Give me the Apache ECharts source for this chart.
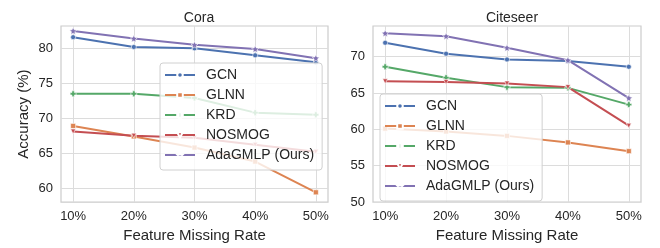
<!DOCTYPE html>
<html>
<head>
<meta charset="utf-8">
<script src="https://cdn.jsdelivr.net/npm/echarts@6/dist/echarts.min.js"></script>
<style>
  html, body { margin: 0; padding: 0; background: #fff; }
  #chart { width: 660px; height: 248px; }
</style>
</head>
<body>
<div id="chart"></div>
<script>
// feature missing rate (%)
var rates = [10, 20, 30, 40, 50];
var names = ['GCN', 'GLNN', 'KRD', 'NOSMOG', 'AdaGMLP (Ours)'];
var coraTicks = [60, 65, 70, 75, 80];
var citeTicks = [50, 55, 60, 65, 70];

// Cora accuracy
var coraGCN = [81.6, 80.2, 80.0, 79.0, 78.0];
var coraGLNN = [68.9, 67.4, 65.8, 63.8, 59.4];
var coraKRD = [73.5, 73.5, 72.9, 70.8, 70.5];
var coraNOSMOG = [68.1, 67.5, 67.2, 66.2, 65.2];
var coraAda = [82.5, 81.4, 80.5, 79.9, 78.6];

// Citeseer accuracy
var citeGCN = [71.9, 70.4, 69.6, 69.4, 68.6];
var citeGLNN = [60.1, 59.7, 59.1, 58.2, 57.0];
var citeKRD = [68.6, 67.1, 65.8, 65.7, 63.4];
var citeNOSMOG = [66.6, 66.5, 66.3, 65.8, 60.5];
var citeAda = [73.2, 72.8, 71.2, 69.5, 64.3];

var colors = ['#4c72b0', '#dd8452', '#55a868', '#c44e52', '#8172b3'];
var symbols = [
  'circle',
  'rect',
  'path://M-4,-10 H4 V-4 H10 V4 H4 V10 H-4 V4 H-10 V-4 H-4 Z',
  'triangle',
  'path://M0,-10 L2.9,-4 9.5,-3.1 4.7,1.5 5.9,8.1 0,5 -5.9,8.1 -4.7,1.5 -9.5,-3.1 -2.9,-4 Z'
];
var symSizes = [5, 5, 6, 5, 7];

var font = '"Liberation Sans", Arial, sans-serif';
var textColor = '#262626';

function pairs(vals) {
  return vals.map(function (v, i) { return [rates[i], v]; });
}

function makeSeries(idx, lists) {
  return lists.map(function (vals, k) {
    return {
      name: names[k],
      type: 'line',
      xAxisIndex: idx,
      yAxisIndex: idx,
      data: pairs(vals),
      color: colors[k],
      symbol: symbols[k],
      symbolSize: symSizes[k],
      symbolRotate: k === 3 ? 180 : 0,
      showAllSymbol: true,
      lineStyle: { width: 2 },
      itemStyle: { borderColor: '#fff', borderWidth: 0.6 },
      z: 2
    };
  });
}

function xAxis(idx) {
  return {
    type: 'value',
    gridIndex: idx,
    min: 8,
    max: 52,
    name: 'Feature Missing Rate',
    nameLocation: 'middle',
    nameGap: 24,
    nameTextStyle: { fontFamily: font, fontSize: 15, color: textColor },
    axisLine: { show: false },
    axisTick: { show: false, customValues: rates },
    axisLabel: {
      customValues: rates,
      formatter: '{value}%',
      fontFamily: font, fontSize: 13, color: textColor, margin: 8
    },
    splitLine: { show: true, lineStyle: { color: '#dcdcdc', width: 1 } }
  };
}

function yAxis(idx, min, max, ticks) {
  return {
    type: 'value',
    gridIndex: idx,
    min: min,
    max: max,
    axisLine: { show: false },
    axisTick: { show: false, customValues: ticks },
    axisLabel: {
      customValues: ticks,
      fontFamily: font, fontSize: 13, color: textColor, margin: 8
    },
    splitLine: { show: true, lineStyle: { color: '#dcdcdc', width: 1 } }
  };
}

function legend(left, top) {
  return {
    data: names,
    orient: 'vertical',
    left: left,
    top: top,
    itemWidth: 30,
    itemHeight: 7,
    itemGap: 4,
    padding: [4, 8, 7, 4],
    backgroundColor: 'rgba(255,255,255,0.8)',
    borderColor: '#d0d0d0',
    borderWidth: 1,
    borderRadius: 3,
    selectedMode: false,
    textStyle: { fontFamily: font, fontSize: 14, color: textColor, lineHeight: 16, padding: [0, 0, 0, 6] },
    z: 5
  };
}

var chart = echarts.init(document.getElementById('chart'), null, { renderer: 'canvas' });

var coraY = yAxis(0, 58, 83.2, coraTicks);
coraY.name = 'Accuracy (%)';
coraY.nameLocation = 'middle';
coraY.nameGap = 30;
coraY.nameTextStyle = { fontFamily: font, fontSize: 15, color: textColor };

var option = {
  backgroundColor: '#fff',
  animation: false,
  title: [
    { text: 'Cora', left: 194, top: 6, textAlign: 'center',
      textStyle: { fontFamily: font, fontSize: 14, fontWeight: 'normal', color: textColor } },
    { text: 'Citeseer', left: 507, top: 6, textAlign: 'center',
      textStyle: { fontFamily: font, fontSize: 14, fontWeight: 'normal', color: textColor } }
  ],
  grid: [
    { left: 61, top: 26, width: 267, height: 179, show: true, borderColor: '#cccccc', borderWidth: 1.2 },
    { left: 373, top: 26, width: 268, height: 179, show: true, borderColor: '#cccccc', borderWidth: 1.2 }
  ],
  legend: [legend(160, 63), legend(380, 94)],
  xAxis: [xAxis(0), xAxis(1)],
  yAxis: [coraY, yAxis(1, 50, 74.2, citeTicks)],
  series: makeSeries(0, [coraGCN, coraGLNN, coraKRD, coraNOSMOG, coraAda])
    .concat(makeSeries(1, [citeGCN, citeGLNN, citeKRD, citeNOSMOG, citeAda]))
};

chart.setOption(option);
</script>
</body>
</html>
